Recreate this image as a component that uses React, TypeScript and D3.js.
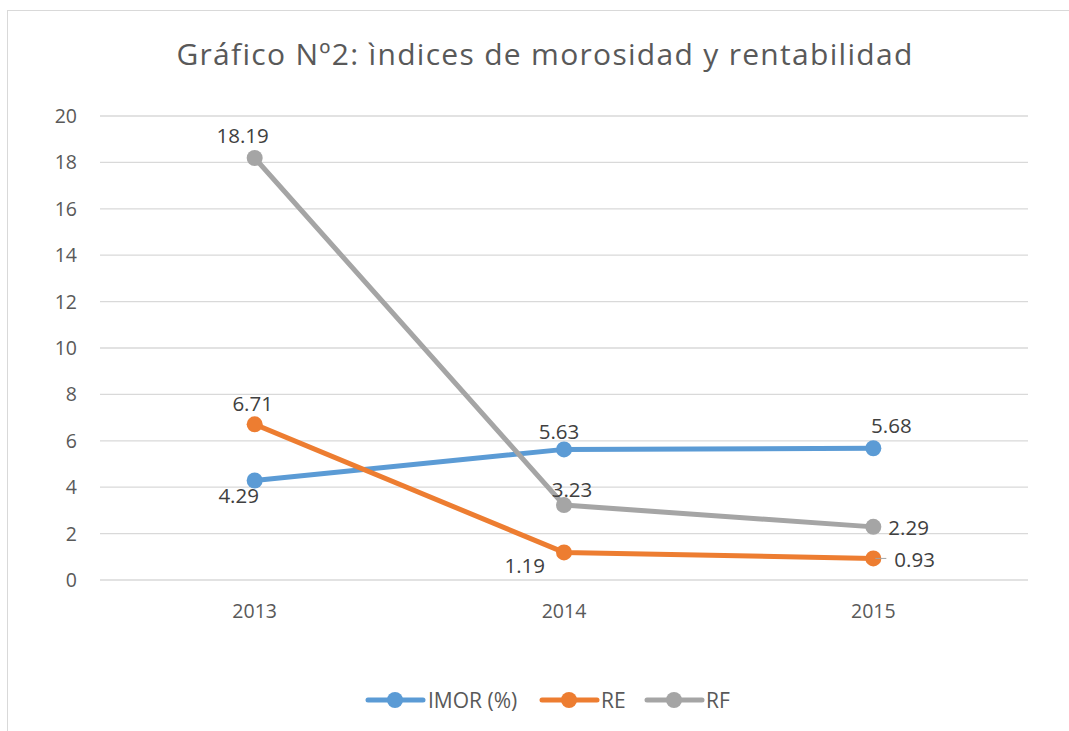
import React from "react";
import * as d3 from "d3";

const years = ["2013", "2014", "2015"];
const imor = [4.29, 5.63, 5.68];
const re = [6.71, 1.19, 0.93];
const rf = [18.19, 3.23, 2.29];
const yTicks = [0, 2, 4, 6, 8, 10, 12, 14, 16, 18, 20];

// label placement: [dx, dy, anchor]
type Lbl = [number, number, "middle" | "start" | "end"];
const series = [
  {
    name: "IMOR (%)",
    color: "#5B9BD5",
    values: imor,
    lbl: [[-16, 23, "middle"], [-5, -10, "middle"], [18, -15, "middle"]] as Lbl[],
    legendX: 368,
    legendTx: 428,
  },
  {
    name: "RE",
    color: "#ED7D31",
    values: re,
    lbl: [[-2, -13, "middle"], [-19, 21, "end"], [21, 9, "start"]] as Lbl[],
    legendX: 542,
    legendTx: 601,
  },
  {
    name: "RF",
    color: "#A5A5A5",
    values: rf,
    lbl: [[-12, -15, "middle"], [8, -8, "middle"], [15, 8, "start"]] as Lbl[],
    legendX: 647,
    legendTx: 706,
  },
];

const W = 1069;
const H = 731;
const FONT = "'Open Sans', 'Noto Sans', sans-serif";

export default function App() {
  const x = d3.scaleBand<string>().domain(years).range([100, 1028]);
  const y = d3.scaleLinear().domain([0, 20]).range([580, 116]);
  const cx = (c: string) => (x(c) ?? 0) + x.bandwidth() / 2;
  const line = d3
    .line<number>()
    .x((_, i) => cx(years[i]))
    .y((v) => y(v));

  return (
    <svg
      width={W}
      height={H}
      style={{ position: "absolute", left: 0, top: 0, background: "#fff" }}
    >
      <rect x={0} y={0} width={W} height={H} fill="#fff" />
      <rect x={7.5} y={10.5} width={W + 20} height={H + 20} fill="#fff" stroke="#D9D9D9" strokeWidth={1} />
      <text
        x={545}
        y={65}
        textAnchor="middle"
        fontFamily={FONT}
        fontSize={30}
        letterSpacing={1.3}
        fill="#595959"
      >
        Gráfico Nº2: ìndices de morosidad y rentabilidad
      </text>
      {yTicks.map((t) => (
        <g key={t}>
          <line x1={100} x2={1028} y1={y(t)} y2={y(t)} stroke="#D9D9D9" strokeWidth={1.3} />
          <text
            x={77}
            y={y(t)}
            dy="0.36em"
            textAnchor="end"
            fontFamily={FONT}
            fontSize={19.5}
            fill="#595959"
          >
            {t}
          </text>
        </g>
      ))}
      {years.map((c) => (
        <text
          key={c}
          x={cx(c)}
          y={618}
          textAnchor="middle"
          fontFamily={FONT}
          fontSize={19.5}
          fill="#595959"
        >
          {c}
        </text>
      ))}
      {series.map((s) => (
        <g key={s.name}>
          <path d={line(s.values) ?? ""} fill="none" stroke={s.color} strokeWidth={5} strokeLinejoin="round" strokeLinecap="round" />
          {s.values.map((v, i) => (
            <circle key={i} cx={cx(years[i])} cy={y(v)} r={8} fill={s.color} />
          ))}
        </g>
      ))}
      <line x1={cx("2015") + 2} x2={cx("2015") + 13} y1={y(re[2])} y2={y(re[2])} stroke="#A5A5A5" strokeWidth={1} />
      {series.map((s) =>
        s.values.map((v, i) => {
          const [dx, dy, anchor] = s.lbl[i];
          return (
            <text
              key={s.name + i}
              x={cx(years[i]) + dx}
              y={y(v) + dy}
              textAnchor={anchor}
              fontFamily={FONT}
              fontSize={20.5}
              fill="#404040"
            >
              {v.toFixed(2)}
            </text>
          );
        })
      )}
      {series.map((s) => (
        <g key={s.name}>
          <line x1={s.legendX} x2={s.legendX + 55} y1={700} y2={700} stroke={s.color} strokeWidth={5} strokeLinecap="round" />
          <circle cx={s.legendX + 27} cy={700} r={8} fill={s.color} />
          <text x={s.legendTx} y={700} dy="0.36em" fontFamily={FONT} fontSize={21} fill="#595959">
            {s.name}
          </text>
        </g>
      ))}
    </svg>
  );
}
